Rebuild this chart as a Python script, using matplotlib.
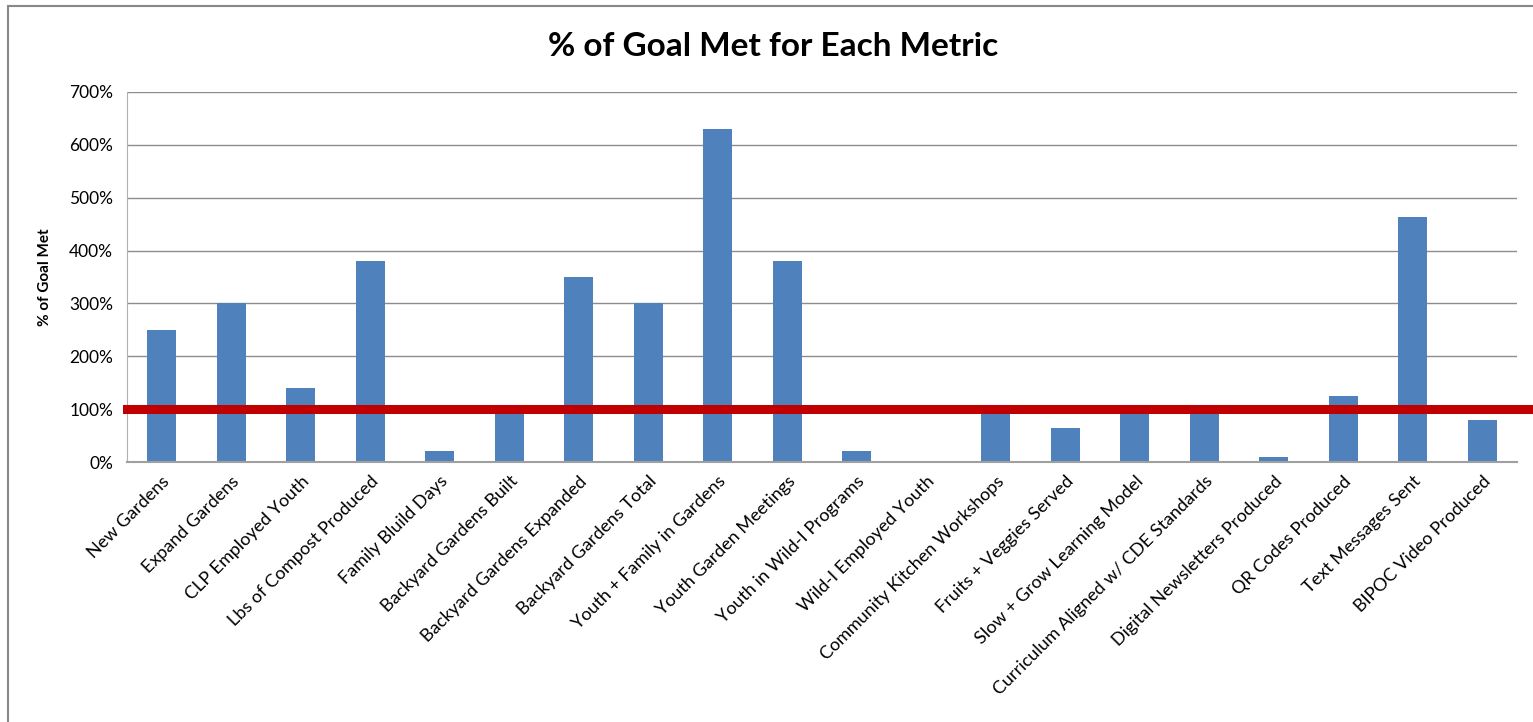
import matplotlib
matplotlib.use("Agg")
import matplotlib.pyplot as plt
from matplotlib.patches import Rectangle
from matplotlib.ticker import FuncFormatter

plt.rcParams['font.family'] = ['Lato', 'DejaVu Sans']

metrics = ["New Gardens", "Expand Gardens", "CLP Employed Youth",
           "Lbs of Compost Produced", "Family Bluild Days",
           "Backyard Gardens Built", "Backyard Gardens Expanded",
           "Backyard Gardens Total", "Youth + Family in Gardens",
           "Youth Garden Meetings", "Youth in Wild-I Programs",
           "Wild-I Employed Youth", "Community Kitchen Workshops",
           "Fruits + Veggies Served", "Slow + Grow Learning Model",
           "Curriculum Aligned w/ CDE Standards",
           "Digital Newsletters Produced", "QR Codes Produced",
           "Text Messages Sent", "BIPOC Video Produced"]
pct_met = [2.50, 3.00, 1.40, 3.80, 0.20, 1.00, 3.50, 3.00, 6.30, 3.80,
           0.20, 0.0, 1.00, 0.65, 1.00, 1.00, 0.10, 1.25, 4.63, 0.80]
goal = 1.0

fig = plt.figure(figsize=(15.33, 7.22), dpi=100)
ax = fig.add_axes([0.0828, 0.3601, 0.9068, 0.5125])

# outer chart border (cut off at right/bottom like the screenshot)
fig.patches.append(Rectangle((8 / 1533, -0.1), 1.2, 1 - 6 / 722 + 0.1,
                             transform=fig.transFigure, fill=False,
                             edgecolor="#888888", linewidth=1.5))

x = range(len(metrics))
ax.bar(x, pct_met, width=0.42, color="#4f81bd", zorder=2)
ax.axhline(goal, xmin=0, xmax=1.02, color="#c00000", linewidth=6.5,
           clip_on=False, zorder=3)

ax.set_xlim(-0.5, len(metrics) - 0.5)
ax.set_ylim(0, 7)
ax.set_yticks([i for i in range(8)])
ax.yaxis.set_major_formatter(FuncFormatter(lambda v, p: f"{v * 100:.0f}%"))
ax.grid(axis="y", color="#8c8c8c", linewidth=1, zorder=0)
ax.set_xticks(list(x))
ax.set_xticklabels(metrics, rotation=45, ha="right", rotation_mode="anchor",
                   fontsize=13)
ax.tick_params(axis="y", labelsize=12.5, length=0, pad=10)
ax.tick_params(axis="x", length=0, pad=8)
for s in ["top", "right"]:
    ax.spines[s].set_visible(False)
ax.spines["left"].set_color("#b0b0b0")
ax.spines["bottom"].set_color("#a0a0a0")
ax.spines["bottom"].set_linewidth(1.5)

ax.set_ylabel("% of Goal Met", fontsize=11, fontweight="bold", labelpad=12)
fig.text(0.504, 0.935, "% of Goal Met for Each Metric", ha="center",
         va="center", fontsize=24, fontweight="bold")

fig.savefig("out.png", dpi=100)
